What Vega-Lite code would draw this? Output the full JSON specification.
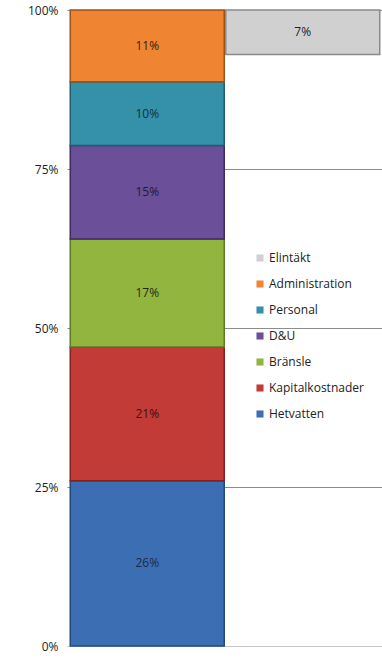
{
  "$schema": "https://vega.github.io/schema/vega-lite/v6.json",
  "width": 316,
  "height": 636,
  "autosize": {"type": "none"},
  "padding": {"left": 67, "top": 10, "right": 0, "bottom": 24},
  "background": "white",
  "config": {"view": {"stroke": null}, "font": "Open Sans"},
  "data": {"values": [
    {"cat": "Kostnad", "serie": "Hetvatten", "y0": 0, "y1": 26, "label": "26%"},
    {"cat": "Kostnad", "serie": "Kapitalkostnader", "y0": 26, "y1": 47, "label": "21%"},
    {"cat": "Kostnad", "serie": "Bränsle", "y0": 47, "y1": 64, "label": "17%"},
    {"cat": "Kostnad", "serie": "D&U", "y0": 64, "y1": 78.7, "label": "15%"},
    {"cat": "Kostnad", "serie": "Personal", "y0": 78.7, "y1": 88.7, "label": "10%"},
    {"cat": "Kostnad", "serie": "Administration", "y0": 88.7, "y1": 100, "label": "11%"},
    {"cat": "Intäkt", "serie": "Elintäkt", "y0": 93, "y1": 100, "label": "7%"}
  ]},
  "encoding": {
    "x": {"field": "cat", "type": "nominal", "sort": ["Kostnad", "Intäkt"], "scale": {"paddingInner": 0.0097, "paddingOuter": 0.021}, "axis": null}
  },
  "layer": [
    {
      "mark": {"type": "bar", "strokeWidth": 1.5},
      "encoding": {
        "y": {"field": "y1", "type": "quantitative", "scale": {"domain": [0, 100]},
          "axis": {"values": [0, 25, 50, 75, 100], "labelExpr": "datum.value + '%'", "ticks": false, "domain": false, "labelPadding": 9, "labelFontSize": 12, "labelColor": "#222222", "title": null,
            "gridColor": {"condition": {"test": "datum.value === 0", "value": "#c8c8c8"}, "value": "#8c8c8c"}}},
        "y2": {"field": "y0"},
        "color": {"field": "serie", "type": "nominal",
          "scale": {"domain": ["Elintäkt", "Administration", "Personal", "D&U", "Bränsle", "Kapitalkostnader", "Hetvatten"],
            "range": ["#d0d0d0", "#ef8533", "#3590aa", "#6b4f98", "#92b53f", "#c23b37", "#3c6eb4"]},
          "legend": {"orient": "none", "legendX": 187, "legendY": 242, "title": null, "symbolType": "square", "symbolSize": 50, "symbolStrokeWidth": 0, "labelFontSize": 12, "labelColor": "#222222", "rowPadding": 14, "labelOffset": 3}},
        "stroke": {"field": "serie", "type": "nominal",
          "scale": {"domain": ["Elintäkt", "Administration", "Personal", "D&U", "Bränsle", "Kapitalkostnader", "Hetvatten"],
            "range": ["#8a8a8a", "#9c5218", "#1f5e70", "#3e2b5e", "#5e7a27", "#7f2221", "#24487a"]},
          "legend": null}
      }
    },
    {
      "transform": [{"fold": ["y0", "y1"], "as": ["k", "v"]}],
      "mark": {"type": "text", "fontSize": 12},
      "encoding": {
        "y": {"field": "v", "aggregate": "mean", "type": "quantitative"},
        "text": {"field": "label", "type": "nominal"},
        "fill": {"field": "serie", "type": "nominal",
          "scale": {"domain": ["Elintäkt", "Administration", "Personal", "D&U", "Bränsle", "Kapitalkostnader", "Hetvatten"],
            "range": ["#222222", "#3a2008", "#10303a", "#22183a", "#1f2a10", "#3a1010", "#1e2a40"]},
          "legend": null}
      }
    }
  ]
}
